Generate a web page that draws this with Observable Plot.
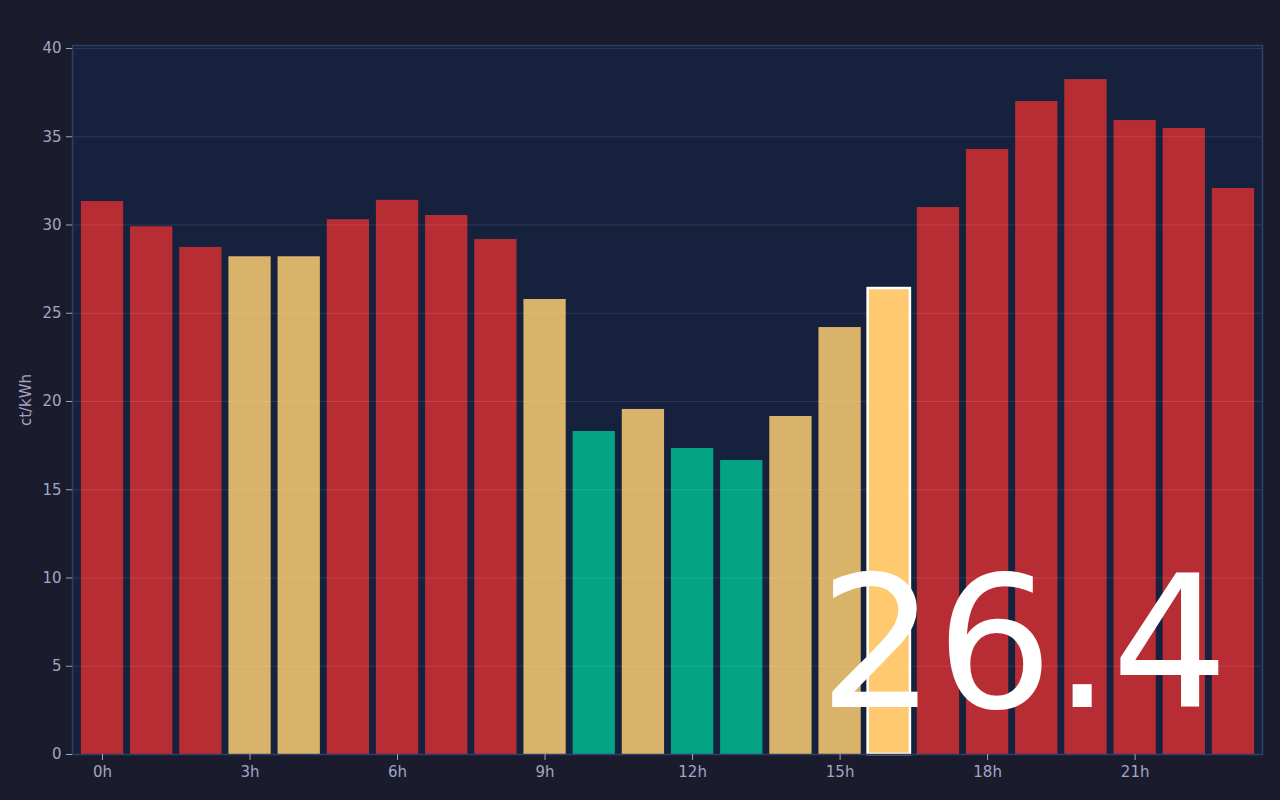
<!DOCTYPE html>
<html>
<head>
<meta charset="utf-8">
<script src="https://cdn.jsdelivr.net/npm/d3@7"></script>
<script src="https://cdn.jsdelivr.net/npm/@observablehq/plot@0.6"></script>
<style>
  html, body { margin: 0; padding: 0; background: #1b1b2e; }
  #chart svg { display: block; }
</style>
</head>
<body>
<div id="chart"></div>
<script>
const hours = d3.range(24);
const prices = [31.33, 29.9, 28.73, 28.2, 28.2, 30.3, 31.4, 30.54, 29.18, 25.78, 18.3, 19.55,
                17.34, 16.66, 19.15, 24.19, 26.4, 30.99, 34.28, 37.0, 38.24, 35.92, 35.47, 32.07];
const levels = ["high","high","high","mid","mid","high","high","high","high","mid","low","mid",
                "low","low","mid","mid","current","high","high","high","high","high","high","high"];
const currentHour = 16;
const currentLabel = "26.4";
const xTicks = [0, 3, 6, 9, 12, 15, 18, 21];
const yTicks = [0, 5, 10, 15, 20, 25, 30, 35, 40];
const levelNames = ["high", "mid", "low", "current"];
const levelColors = ["#b82d33", "#d9b36a", "#04a386", "#fec96f"];

const data = hours.map((h, i) => ({hour: h, price: prices[i], level: levels[i]}));
const others = data.filter(d => d.hour !== currentHour);
const current = data.filter(d => d.hour === currentHour);

const axisColor = "#a3a5c2";

const chart = Plot.plot({
  width: 1280,
  height: 800,
  marginLeft: 72,
  marginRight: 18,
  marginTop: 45,
  marginBottom: 46,
  style: {background: "#1b1b2e", color: axisColor, fontFamily: "DejaVu Sans, sans-serif", fontSize: "15px"},
  x: {type: "band", domain: hours, padding: 0.14, insetLeft: 2, insetRight: 1, round: false, label: null},
  y: {domain: [0, 40], insetTop: 3, label: null},
  color: {domain: levelNames, range: levelColors},
  marks: [
    Plot.frame({fill: "#16213e"}),
    Plot.barY(others, {x: "hour", y: "price", fill: "level"}),
    Plot.gridY(yTicks, {stroke: "#ffffff", strokeOpacity: 0.1}),
    Plot.barY(current, {x: "hour", y: "price", fill: "level", stroke: "#ffffff", strokeWidth: 2.5}),
    Plot.frame({stroke: "#2f4068", strokeWidth: 1.5}),
    Plot.axisY(yTicks, {tickSize: 6, tickPadding: 5, stroke: axisColor, fill: axisColor, fontSize: 15, label: null}),
    Plot.axisX(xTicks, {tickSize: 6, tickPadding: 6, stroke: axisColor, fill: axisColor, fontSize: 15,
      tickFormat: d => d + "h", label: null}),
    Plot.text(["ct/kWh"], {frameAnchor: "left", textAnchor: "middle", dx: -46, rotate: -90,
      fill: axisColor, fontSize: 15, text: d => d}),
    Plot.text([currentLabel], {frameAnchor: "bottom-right", text: d => d, dx: -34, dy: -48,
      lineAnchor: "bottom", textAnchor: "end", fill: "#ffffff", fontSize: 184})
  ]
});

document.getElementById("chart").appendChild(chart);
</script>
</body>
</html>
